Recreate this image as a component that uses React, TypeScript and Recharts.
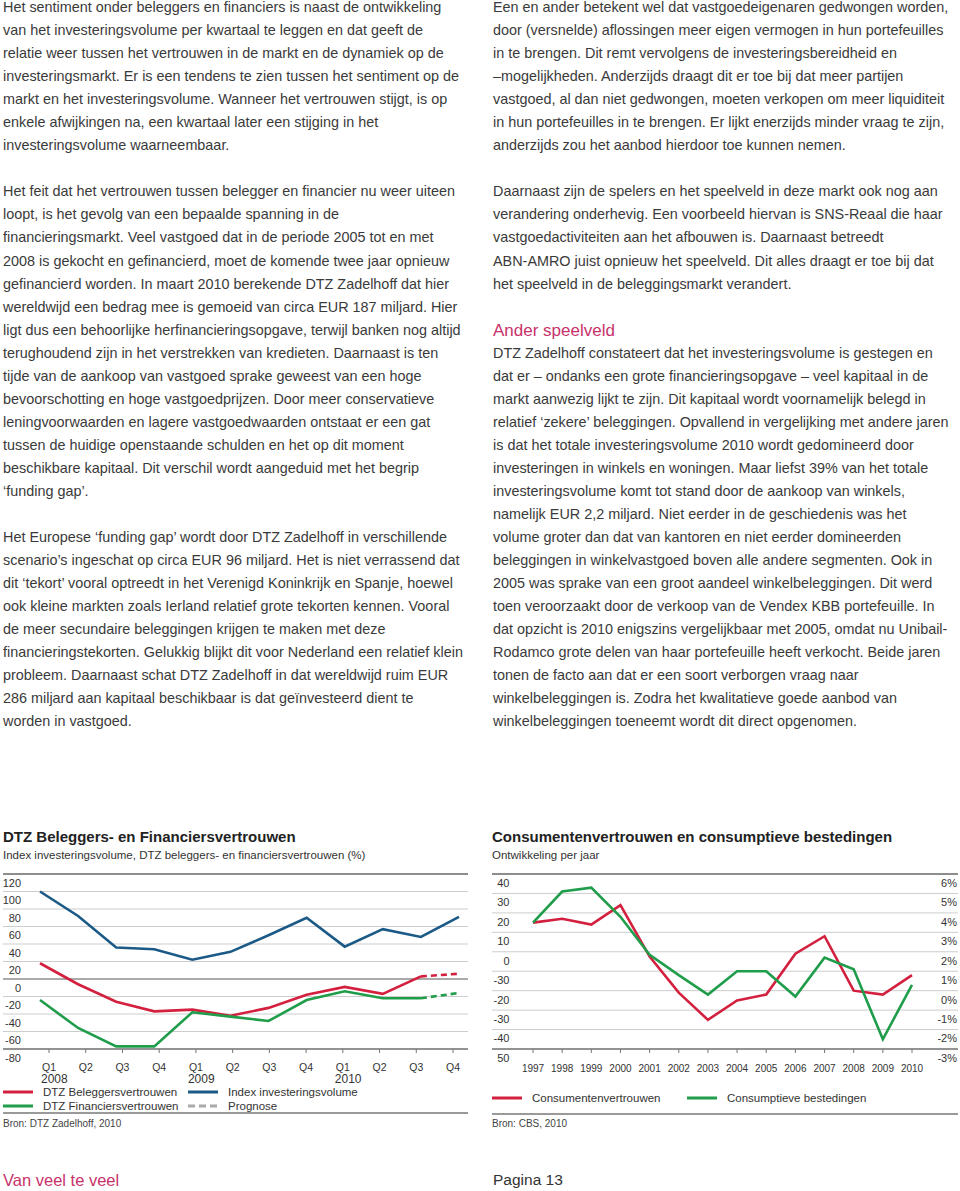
import React from "react";
import { LineChart, Line, XAxis, YAxis, CartesianGrid, ReferenceLine } from "recharts";

// ---------- Left chart data ----------
const quarters = ["Q1", "Q2", "Q3", "Q4", "Q1", "Q2", "Q3", "Q4", "Q1", "Q2", "Q3", "Q4"];
const quarterYears = ["2008", "", "", "", "2009", "", "", "", "2010", "", "", ""];
const investmentIndex = [100, 72, 36, 34, 22, 31, 50, 70, 37, 57, 48, 71];
const investorConfidence = [18, -6, -26, -37, -35, -42, -33, -18, -9, -17, 3, null];
const investorForecast = [null, null, null, null, null, null, null, null, null, null, 3, 6];
const financierConfidence = [-24, -56, -77, -77, -38, -43, -48, -24, -14, -22, -22, null];
const financierForecast = [null, null, null, null, null, null, null, null, null, null, -22, -16];
const leftTicks = [120, 100, 80, 60, 40, 20, 0, -20, -40, -60, -80];

// ---------- Right chart data ----------
const years = ["1997", "1998", "1999", "2000", "2001", "2002", "2003", "2004", "2005", "2006", "2007", "2008", "2009", "2010"];
const consumerConfidence = [15, 17, 14, 24, -2.5, -21, -35, -25, -22, -1, 8, -20, -22, -12];
const consumerSpending = [15, 31, 33, 18, -1.5, -12, -22, -10, -10, -23, -3, -9, -45, -17];
const rightTicks = [40, 30, 20, 10, 0, -10, -20, -30, -40, -50];
const rightLeftLabels = ["40", "30", "20", "10", "0", "-30", "-20", "-30", "-40", "50"];
const rightPctLabels = ["6%", "5%", "4%", "3%", "2%", "1%", "0%", "-1%", "-2%", "-3%"];

const RED = "#d3203f";
const GREEN = "#1f9d4b";
const BLUE = "#1b5a87";
const GREY_DASH = "#aaaaaa";

const leftData = quarters.map((q, i) => ({
  q,
  year: quarterYears[i],
  index: investmentIndex[i],
  inv: investorConfidence[i],
  invF: investorForecast[i],
  fin: financierConfidence[i],
  finF: financierForecast[i],
}));

const rightData = years.map((y, i) => ({
  year: y,
  conf: consumerConfidence[i],
  spend: consumerSpending[i],
}));

const leftLegend = [
  { name: "DTZ Beleggersvertrouwen", color: RED, dash: false },
  { name: "Index investeringsvolume", color: BLUE, dash: false },
  { name: "DTZ Financiersvertrouwen", color: GREEN, dash: false },
  { name: "Prognose", color: GREY_DASH, dash: true },
];
const rightLegend = [
  { name: "Consumentenvertrouwen", color: RED },
  { name: "Consumptieve bestedingen", color: GREEN },
];

const leftCol = [
  "Het sentiment onder beleggers en financiers is naast de ontwikkeling",
  "van het investeringsvolume per kwartaal te leggen en dat geeft de",
  "relatie weer tussen het vertrouwen in de markt en de dynamiek op de",
  "investeringsmarkt. Er is een tendens te zien tussen het sentiment op de",
  "markt en het investeringsvolume. Wanneer het vertrouwen stijgt, is op",
  "enkele afwijkingen na, een kwartaal later een stijging in het",
  "investeringsvolume waarneembaar.",
  "",
  "Het feit dat het vertrouwen tussen belegger en financier nu weer uiteen",
  "loopt, is het gevolg van een bepaalde spanning in de",
  "financieringsmarkt. Veel vastgoed dat in de periode 2005 tot en met",
  "2008 is gekocht en gefinancierd, moet de komende twee jaar opnieuw",
  "gefinancierd worden. In maart 2010 berekende DTZ Zadelhoff dat hier",
  "wereldwijd een bedrag mee is gemoeid van circa EUR 187 miljard. Hier",
  "ligt dus een behoorlijke herfinancieringsopgave, terwijl banken nog altijd",
  "terughoudend zijn in het verstrekken van kredieten. Daarnaast is ten",
  "tijde van de aankoop van vastgoed sprake geweest van een hoge",
  "bevoorschotting en hoge vastgoedprijzen. Door meer conservatieve",
  "leningvoorwaarden en lagere vastgoedwaarden ontstaat er een gat",
  "tussen de huidige openstaande schulden en het op dit moment",
  "beschikbare kapitaal. Dit verschil wordt aangeduid met het begrip",
  "\u2018funding gap\u2019.",
  "",
  "Het Europese \u2018funding gap\u2019 wordt door DTZ Zadelhoff in verschillende",
  "scenario\u2019s ingeschat op circa EUR 96 miljard. Het is niet verrassend dat",
  "dit \u2018tekort\u2019 vooral optreedt in het Verenigd Koninkrijk en Spanje, hoewel",
  "ook kleine markten zoals Ierland relatief grote tekorten kennen. Vooral",
  "de meer secundaire beleggingen krijgen te maken met deze",
  "financieringstekorten. Gelukkig blijkt dit voor Nederland een relatief klein",
  "probleem. Daarnaast schat DTZ Zadelhoff in dat wereldwijd ruim EUR",
  "286 miljard aan kapitaal beschikbaar is dat ge\u00efnvesteerd dient te",
  "worden in vastgoed.",
];

const rightColTop = [
  "Een en ander betekent wel dat vastgoedeigenaren gedwongen worden,",
  "door (versnelde) aflossingen meer eigen vermogen in hun portefeuilles",
  "in te brengen. Dit remt vervolgens de investeringsbereidheid en",
  "\u2013mogelijkheden. Anderzijds draagt dit er toe bij dat meer partijen",
  "vastgoed, al dan niet gedwongen, moeten verkopen om meer liquiditeit",
  "in hun portefeuilles in te brengen. Er lijkt enerzijds minder vraag te zijn,",
  "anderzijds zou het aanbod hierdoor toe kunnen nemen.",
  "",
  "Daarnaast zijn de spelers en het speelveld in deze markt ook nog aan",
  "verandering onderhevig. Een voorbeeld hiervan is SNS-Reaal die haar",
  "vastgoedactiviteiten aan het afbouwen is. Daarnaast betreedt",
  "ABN-AMRO juist opnieuw het speelveld. Dit alles draagt er toe bij dat",
  "het speelveld in de beleggingsmarkt verandert.",
  "",
];
const rightHeading = "Ander speelveld";
const rightColBottom = [
  "DTZ Zadelhoff constateert dat het investeringsvolume is gestegen en",
  "dat er \u2013 ondanks een grote financieringsopgave \u2013 veel kapitaal in de",
  "markt aanwezig lijkt te zijn. Dit kapitaal wordt voornamelijk belegd in",
  "relatief \u2018zekere\u2019 beleggingen. Opvallend in vergelijking met andere jaren",
  "is dat het totale investeringsvolume 2010 wordt gedomineerd door",
  "investeringen in winkels en woningen. Maar liefst 39% van het totale",
  "investeringsvolume komt tot stand door de aankoop van winkels,",
  "namelijk EUR 2,2 miljard. Niet eerder in de geschiedenis was het",
  "volume groter dan dat van kantoren en niet eerder domineerden",
  "beleggingen in winkelvastgoed boven alle andere segmenten. Ook in",
  "2005 was sprake van een groot aandeel winkelbeleggingen. Dit werd",
  "toen veroorzaakt door de verkoop van de Vendex KBB portefeuille. In",
  "dat opzicht is 2010 enigszins vergelijkbaar met 2005, omdat nu Unibail-",
  "Rodamco grote delen van haar portefeuille heeft verkocht. Beide jaren",
  "tonen de facto aan dat er een soort verborgen vraag naar",
  "winkelbeleggingen is. Zodra het kwalitatieve goede aanbod van",
  "winkelbeleggingen toeneemt wordt dit direct opgenomen.",
];

const PINK = "#c8326b";
const TEXT = "#3a3a3a";
const LH = 23.05;

const LeftYTick = (props: any) => {
  const { y, payload } = props;
  return (
    <text x={18} y={y + 9} dy="0.35em" textAnchor="end" fontSize={11} fill="#333">
      {payload.value}
    </text>
  );
};

const LeftXTick = (props: any) => {
  const { x, y, payload, index } = props;
  const yr = quarterYears[index];
  return (
    <g>
      <text x={x} y={y + 12.5} dy="0.35em" textAnchor="middle" fontSize={10.5} fill="#333">
        {payload.value}
      </text>
      {yr ? (
        <text x={x - 8} y={y + 23.5} dy="0.35em" textAnchor="start" fontSize={12} fill="#333">
          {yr}
        </text>
      ) : null}
    </g>
  );
};

const RightYTick = (props: any) => {
  const { y, payload } = props;
  const i = rightTicks.indexOf(payload.value);
  return (
    <g>
      <text x={17.5} y={y + 9} dy="0.35em" textAnchor="end" fontSize={11} fill="#333">
        {rightLeftLabels[i]}
      </text>
      <text x={465} y={y + 9} dy="0.35em" textAnchor="end" fontSize={11} fill="#333">
        {rightPctLabels[i]}
      </text>
    </g>
  );
};

const RightXTick = (props: any) => {
  const { x, y, payload } = props;
  return (
    <text x={x} y={y + 13} dy="0.35em" textAnchor="middle" fontSize={10} fill="#333">
      {payload.value}
    </text>
  );
};

const Swatch = ({ color, dash }: { color: string; dash?: boolean }) => (
  <svg width={30} height={6} style={{ display: "block" }}>
    <line x1={0} y1={3} x2={30} y2={3} stroke={color} strokeWidth={3} strokeDasharray={dash ? "7 4" : undefined} />
  </svg>
);

const LegendItem = ({ left, top, name, color, dash }: any) => (
  <div style={{ position: "absolute", left, top, height: 14, display: "flex", alignItems: "center", whiteSpace: "nowrap" }}>
    <Swatch color={color} dash={dash} />
    <span style={{ marginLeft: 10, fontSize: 11.5, color: "#333", lineHeight: "14px" }}>{name}</span>
  </div>
);

export default function App() {
  return (
    <div
      style={{
        position: "absolute",
        left: 0,
        top: 0,
        width: 960,
        height: 1191,
        background: "#fff",
        fontFamily: "'Liberation Sans', Arial, Helvetica, sans-serif",
        color: TEXT,
        overflow: "hidden",
      }}
    >
      {/* Left text column */}
      <div style={{ position: "absolute", left: 3, top: -4, fontSize: 14.4, lineHeight: `${LH}px`, whiteSpace: "pre" }}>
        {leftCol.map((l, i) => (
          <div key={i} style={{ height: LH }}>{l}</div>
        ))}
      </div>

      {/* Right text column */}
      <div style={{ position: "absolute", left: 493, top: -4, fontSize: 14.4, lineHeight: `${LH}px`, whiteSpace: "pre" }}>
        {rightColTop.map((l, i) => (
          <div key={i} style={{ height: LH }}>{l}</div>
        ))}
        <div style={{ height: LH, fontSize: 17, color: PINK }}>{rightHeading}</div>
        {rightColBottom.map((l, i) => (
          <div key={"b" + i} style={{ height: LH }}>{l}</div>
        ))}
      </div>

      {/* Left chart titles */}
      <div style={{ position: "absolute", left: 3, top: 828, fontSize: 15, fontWeight: "bold", lineHeight: "18px", color: "#222", whiteSpace: "nowrap" }}>
        DTZ Beleggers- en Financiersvertrouwen
      </div>
      <div style={{ position: "absolute", left: 3, top: 848, fontSize: 11.5, lineHeight: "14px", color: "#333", whiteSpace: "nowrap" }}>
        Index investeringsvolume, DTZ beleggers- en financiersvertrouwen (%)
      </div>

      {/* Left chart */}
      <div style={{ position: "absolute", left: 3, top: 873 }}>
        <LineChart width={465} height={212} data={leftData} margin={{ top: 1, right: 0, bottom: 0, left: 0 }}>
          <CartesianGrid xAxisId="ticks" vertical={false} stroke="#cdcdcd" strokeWidth={1} />
          <XAxis xAxisId="data" dataKey="q" hide height={0} padding={{ left: 37, right: 9 }} />
          <XAxis
            xAxisId="ticks"
            dataKey="q"
            padding={{ left: 46, right: 15 }}
            interval={0}
            height={36}
            tickSize={4}
            tickLine={{ stroke: "#777" }}
            axisLine={{ stroke: "#777", strokeWidth: 1.3 }}
            tick={<LeftXTick />}
          />
          <YAxis
            mirror
            domain={[-80, 120]}
            ticks={leftTicks}
            interval={0}
            axisLine={false}
            tickLine={false}
            tick={<LeftYTick />}
          />
          <ReferenceLine xAxisId="ticks" y={120} stroke="#6f6f6f" strokeWidth={1.3} />
          <ReferenceLine xAxisId="ticks" y={0} stroke="#6f6f6f" strokeWidth={1.2} />
          <Line xAxisId="data" dataKey="index" stroke={BLUE} strokeWidth={2.6} dot={false} isAnimationActive={false} />
          <Line xAxisId="data" dataKey="inv" stroke={RED} strokeWidth={2.6} dot={false} isAnimationActive={false} />
          <Line xAxisId="data" dataKey="invF" stroke={RED} strokeWidth={2.6} strokeDasharray="6 4" dot={false} isAnimationActive={false} />
          <Line xAxisId="data" dataKey="fin" stroke={GREEN} strokeWidth={2.6} dot={false} isAnimationActive={false} />
          <Line xAxisId="data" dataKey="finF" stroke={GREEN} strokeWidth={2.6} strokeDasharray="6 4" dot={false} isAnimationActive={false} />
        </LineChart>
      </div>

      {/* Left legend */}
      <LegendItem left={3} top={1085} {...leftLegend[0]} />
      <LegendItem left={188} top={1085} {...leftLegend[1]} />
      <LegendItem left={3} top={1099} {...leftLegend[2]} />
      <LegendItem left={188} top={1099} {...leftLegend[3]} />
      <div style={{ position: "absolute", left: 3, top: 1112, width: 465, height: 1.5, background: "#9a9a9a" }} />
      <div style={{ position: "absolute", left: 3, top: 1118, fontSize: 10, lineHeight: "12px", color: "#444", whiteSpace: "nowrap" }}>
        Bron: DTZ Zadelhoff, 2010
      </div>

      {/* Right chart titles */}
      <div style={{ position: "absolute", left: 492, top: 828, fontSize: 15, fontWeight: "bold", lineHeight: "18px", color: "#222", whiteSpace: "nowrap" }}>
        Consumentenvertrouwen en consumptieve bestedingen
      </div>
      <div style={{ position: "absolute", left: 492, top: 848, fontSize: 11.5, lineHeight: "14px", color: "#333", whiteSpace: "nowrap" }}>
        Ontwikkeling per jaar
      </div>

      {/* Right chart */}
      <div style={{ position: "absolute", left: 492, top: 873 }}>
        <LineChart width={466} height={212} data={rightData} margin={{ top: 1, right: 0, bottom: 0, left: 0 }}>
          <CartesianGrid vertical={false} stroke="#cdcdcd" strokeWidth={1} />
          <XAxis
            dataKey="year"
            padding={{ left: 41, right: 46 }}
            interval={0}
            height={36}
            tickSize={4}
            tickLine={{ stroke: "#777" }}
            axisLine={{ stroke: "#777", strokeWidth: 1.3 }}
            tick={<RightXTick />}
          />
          <YAxis
            mirror
            domain={[-50, 40]}
            ticks={rightTicks}
            interval={0}
            axisLine={false}
            tickLine={false}
            tick={<RightYTick />}
          />
          <ReferenceLine y={40} stroke="#6f6f6f" strokeWidth={1.3} />
          <Line dataKey="conf" stroke={RED} strokeWidth={2.6} dot={false} isAnimationActive={false} />
          <Line dataKey="spend" stroke={GREEN} strokeWidth={2.6} dot={false} isAnimationActive={false} />
        </LineChart>
      </div>

      {/* Right legend */}
      <LegendItem left={492} top={1091} {...rightLegend[0]} />
      <LegendItem left={687} top={1091} {...rightLegend[1]} />
      <div style={{ position: "absolute", left: 492, top: 1113, width: 466, height: 1.5, background: "#9a9a9a" }} />
      <div style={{ position: "absolute", left: 492, top: 1118, fontSize: 10, lineHeight: "12px", color: "#444", whiteSpace: "nowrap" }}>
        Bron: CBS, 2010
      </div>

      {/* Footer */}
      <div style={{ position: "absolute", left: 3, top: 1170, fontSize: 16.5, lineHeight: "20px", color: PINK, whiteSpace: "nowrap" }}>
        Van veel te veel
      </div>
      <div style={{ position: "absolute", left: 493, top: 1170, fontSize: 15.5, lineHeight: "20px", color: "#333", whiteSpace: "nowrap" }}>
        Pagina 13
      </div>
    </div>
  );
}
